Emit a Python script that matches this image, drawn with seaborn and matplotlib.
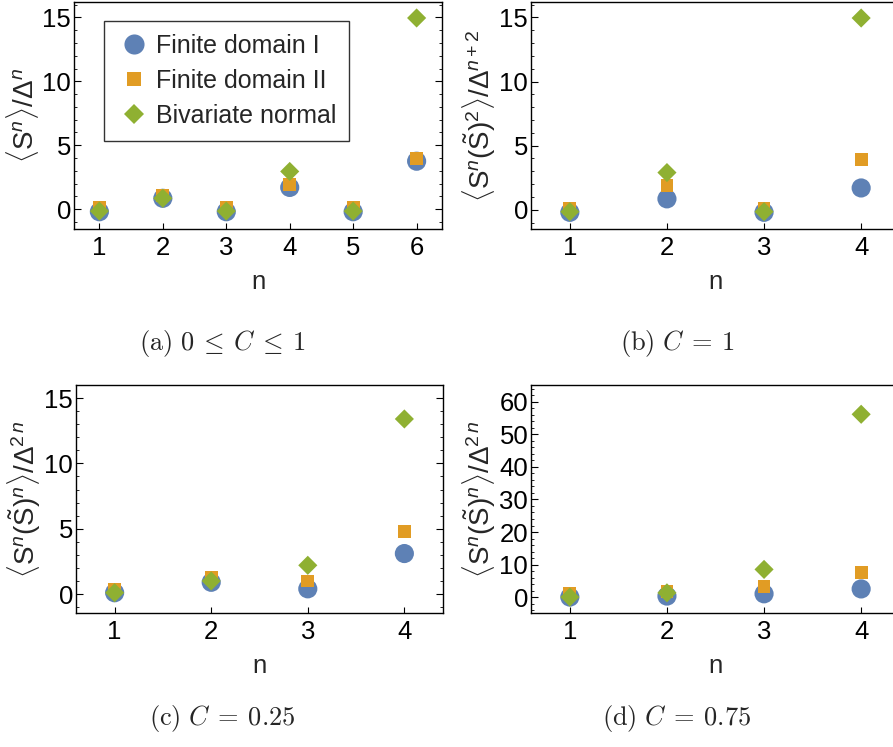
import matplotlib
matplotlib.use("Agg")
import matplotlib.pyplot as plt
import pandas as pd
import seaborn as sns
from matplotlib.lines import Line2D
from matplotlib.ticker import AutoMinorLocator, MultipleLocator

# series names and colours (Mathematica default palette)
series = ["Finite domain I", "Finite domain II", "Bivariate normal"]
colors = {"Finite domain I": "#5E81B5", "Finite domain II": "#E19C24", "Bivariate normal": "#8FB032"}
markers = {"Finite domain I": "o", "Finite domain II": "s", "Bivariate normal": "D"}
sizes = {"Finite domain I": 190, "Finite domain II": 85, "Bivariate normal": 95}

# (a) 0 <= C <= 1
n_a = [1, 2, 3, 4, 5, 6]
a_fd1 = [-0.2, 0.85, -0.2, 1.7, -0.2, 3.75]
a_fd2 = [0.1, 1.1, 0.1, 1.95, 0.1, 3.95]
a_bn = [-0.15, 0.85, -0.15, 2.95, -0.15, 14.95]

# (b) C = 1
n_b = [1, 2, 3, 4]
b_fd1 = [-0.2, 0.85, -0.2, 1.7]
b_fd2 = [0.1, 1.9, 0.1, 3.95]
b_bn = [-0.15, 2.9, -0.15, 14.95]

# (c) C = 0.25
n_c = [1, 2, 3, 4]
c_fd1 = [0.1, 0.9, 0.4, 3.1]
c_fd2 = [0.35, 1.3, 1.0, 4.8]
c_bn = [0.1, 1.0, 2.2, 13.4]

# (d) C = 0.75
n_d = [1, 2, 3, 4]
d_fd1 = [0.0, 0.3, 1.0, 2.5]
d_fd2 = [1.2, 1.8, 3.3, 7.6]
d_bn = [0.0, 1.3, 8.5, 56.2]

sns.set_theme(style="ticks")
plt.rcParams["font.family"] = ["Liberation Sans", "DejaVu Sans"]
plt.rcParams["mathtext.fontset"] = "custom"
plt.rcParams["mathtext.rm"] = "Liberation Sans"
plt.rcParams["mathtext.it"] = "Liberation Sans:italic"
plt.rcParams["mathtext.bf"] = "Liberation Sans:bold"

FS = 18.5


def make_df(n, fd1, fd2, bn):
    rows = []
    for name, vals in zip(series, [fd1, fd2, bn]):
        for x, y in zip(n, vals):
            rows.append({"n": x, "value": y, "series": name})
    return pd.DataFrame(rows)


def draw(ax, df, xticks, ylim, ymajor, ylabel, right_ticks=True):
    sns.scatterplot(data=df, x="n", y="value", hue="series", style="series", size="series",
                    palette=colors, markers=markers, sizes=sizes, linewidth=0,
                    legend=False, ax=ax, zorder=3)
    ax.set_xlim(0.6, 4.4 if len(xticks) == 4 else 6.4)
    ax.set_ylim(*ylim)
    ax.set_xticks(xticks)
    ax.yaxis.set_major_locator(MultipleLocator(ymajor))
    ax.yaxis.set_minor_locator(AutoMinorLocator(5))
    ax.tick_params(axis="both", which="both", direction="in", labelsize=FS, colors="black",
                   right=right_ticks, top=False)
    ax.tick_params(axis="y", which="major", length=5, width=0.8, pad=2)
    ax.tick_params(axis="y", which="minor", length=2.5, width=0.6)
    ax.tick_params(axis="x", which="major", length=4, width=0.8, pad=5)
    ax.tick_params(axis="x", which="minor", bottom=False, top=False)
    ax.set_xlabel("n", fontsize=FS, labelpad=7)
    ax.set_ylabel(ylabel, fontsize=20, labelpad=1)
    for sp in ax.spines.values():
        sp.set_visible(True)
        sp.set_color("black")
        sp.set_linewidth(1.0)


fig = plt.figure(figsize=(8.93, 7.47), dpi=100)
W, H = 893, 747


def axes_px(left, right, top, bottom):
    return fig.add_axes([left / W, (H - bottom) / H, (right - left) / W, (bottom - top) / H])


ax_a = axes_px(74, 442, 2, 229)
ax_b = axes_px(531, 900, 2, 229)
ax_c = axes_px(76, 443, 385, 613)
ax_d = axes_px(531, 900, 385, 613)

draw(ax_a, make_df(n_a, a_fd1, a_fd2, a_bn), n_a, (-1.55, 16.2), 5,
     r"$\langle \mathrm{S}^{n}\rangle/\Delta^{n}$")
draw(ax_b, make_df(n_b, b_fd1, b_fd2, b_bn), n_b, (-1.5, 16.2), 5,
     r"$\langle \mathrm{S}^{n}(\tilde{\mathrm{S}})^{2}\rangle/\Delta^{n+2}$")
draw(ax_c, make_df(n_c, c_fd1, c_fd2, c_bn), n_c, (-1.45, 16.0), 5,
     r"$\langle \mathrm{S}^{n}(\tilde{\mathrm{S}})^{n}\rangle/\Delta^{2\,n}$")
draw(ax_d, make_df(n_d, d_fd1, d_fd2, d_bn), n_d, (-4.9, 65.2), 10,
     r"$\langle \mathrm{S}^{n}(\tilde{\mathrm{S}})^{n}\rangle/\Delta^{2\,n}$")

# legend in panel (a)
handles = [Line2D([], [], linestyle="none", marker=markers[s], color=colors[s],
                  markersize=(sizes[s] ** 0.5) * 1.05, markeredgewidth=0) for s in series]
leg = ax_a.legend(handles, series, loc="upper left", bbox_to_anchor=(0.0815, 0.916),
                  borderaxespad=0, fontsize=18, frameon=True, fancybox=False,
                  labelspacing=0.45, handletextpad=0.2, borderpad=0.5, handlelength=1.4)
leg.get_frame().set_edgecolor("black")
leg.get_frame().set_linewidth(1.0)

# sub-captions
caps = [(222, 343, r"$\mathrm{(a)}\ 0\:\leq\:C\:\leq\:1$"),
        (677, 343, r"$\mathrm{(b)}\ C\:=\:1$"),
        (222, 718, r"$\mathrm{(c)}\ C\:=\:0.25$"),
        (677, 718, r"$\mathrm{(d)}\ C\:=\:0.75$")]
for x, y, t in caps:
    fig.text(x / W, (H - y) / H, t, ha="center", va="center", fontsize=19, math_fontfamily="cm")

fig.savefig("out.png", dpi=100)
